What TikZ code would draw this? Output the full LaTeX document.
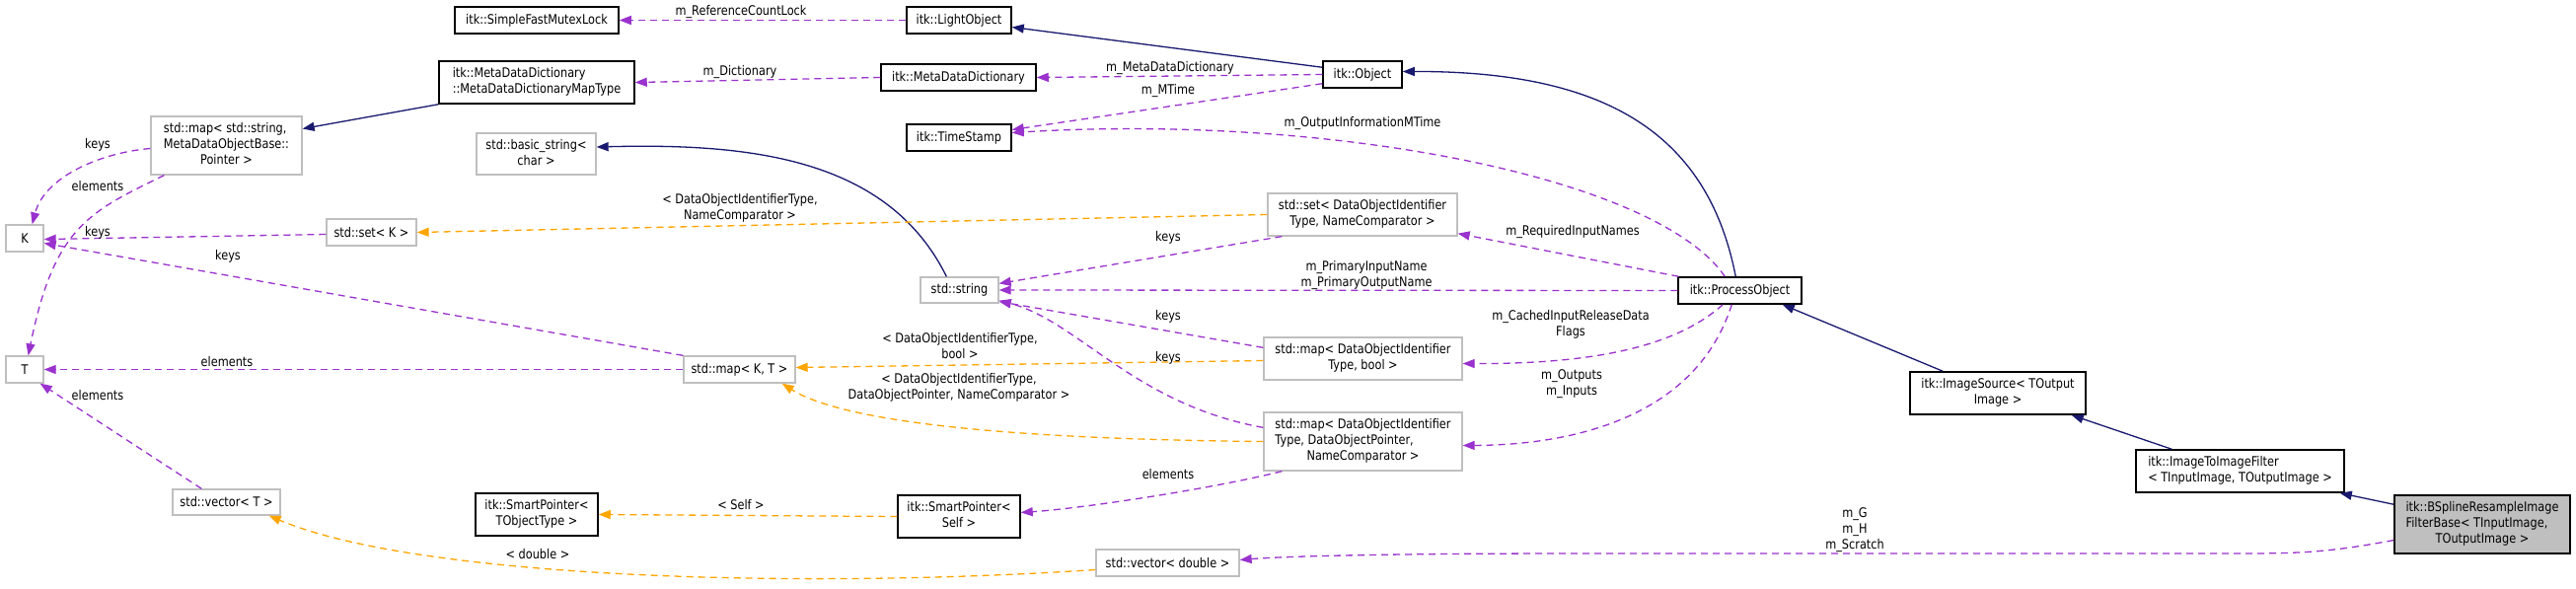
\documentclass[tikz,border=0pt]{standalone}
\usepackage{fontspec}
\setmainfont[FakeStretch=0.85]{DejaVu Sans}
\usetikzlibrary{arrows.meta,calc}
\definecolor{dxnavy}{HTML}{191970}
\definecolor{dxpurple}{HTML}{9A32CD}
\definecolor{dxorange}{HTML}{FFA500}
\definecolor{dxgray}{HTML}{BFBFBF}
\newcommand\dxfont{\fontsize{13.3pt}{16pt}\selectfont}
\newcommand\dxTwo[2]{\begin{tabular}{@{}l@{}}#1\\\multicolumn{1}{@{}c@{}}{#2}\end{tabular}}
\newcommand\dxThree[3]{\begin{tabular}{@{}l@{}}#1\\#2\\\multicolumn{1}{@{}c@{}}{#3}\end{tabular}}
\begin{document}
\begin{tikzpicture}[x=1pt,y=-1pt,
  box/.style={draw, line width=1.5pt, inner sep=0pt, font=\dxfont, fill=white},
  doc/.style={box, draw=black},
  undoc/.style={box, draw=dxgray, line width=1.3pt},
  cur/.style={box, draw=black, fill=dxgray},
  inh/.style={draw=dxnavy, line width=1.3pt, -{Triangle[length=12pt,width=9pt]}},
  use/.style={draw=dxpurple, line width=1.3pt, dash pattern=on 7pt off 5pt, -{Triangle[length=12pt,width=9pt]}},
  tmpl/.style={draw=dxorange, line width=1.3pt, dash pattern=on 7pt off 5pt, -{Triangle[length=12pt,width=9pt]}},
  lbl/.style={font=\dxfont, align=center, inner sep=0pt}]
\fill[white] (0,0) rectangle (2611,597);
\useasboundingbox (0,0) rectangle (2611,597);

% nodes
\node[doc, minimum width=166, minimum height=27] (smfl) at (544,20.5) {itk::SimpleFastMutexLock};
\node[doc, minimum width=198, minimum height=43] (mddmt) at (544,83.5) {\dxTwo{itk::MetaDataDictionary}{::MetaDataDictionaryMapType}};
\node[undoc, minimum width=153, minimum height=59] (mapstr) at (229.5,147.5) {\dxThree{std::map< std::string,}{MetaDataObjectBase::}{Pointer >}};
\node[undoc, minimum width=121, minimum height=42] (basicstr) at (543.5,156) {\dxTwo{std::basic\_string<}{char >}};
\node[undoc, minimum width=38, minimum height=27] (K) at (25,241.5) {K};
\node[undoc, minimum width=91, minimum height=27] (setK) at (376.5,235.5) {std::set< K >};
\node[undoc, minimum width=38, minimum height=27] (T) at (25,374.5) {T};
\node[undoc, minimum width=113, minimum height=27] (mapKT) at (749.5,374.5) {std::map< K, T >};
\node[undoc, minimum width=109, minimum height=26] (vecT) at (229.5,509) {std::vector< T >};
\node[doc, minimum width=124, minimum height=43] (spTO) at (544,521.5) {\dxTwo{itk::SmartPointer<}{TObjectType >}};
\node[doc, minimum width=106, minimum height=27] (light) at (972,20.5) {itk::LightObject};
\node[doc, minimum width=157, minimum height=27] (mdd) at (971.5,78.5) {itk::MetaDataDictionary};
\node[doc, minimum width=80, minimum height=27] (obj) at (1381,75.5) {itk::Object};
\node[doc, minimum width=106, minimum height=27] (ts) at (972,139.5) {itk::TimeStamp};
\node[undoc, minimum width=192, minimum height=43] (setDO) at (1381,217.5) {\dxTwo{std::set< DataObjectIdentifier}{Type, NameComparator >}};
\node[undoc, minimum width=79, minimum height=26] (str) at (972.5,294) {std::string};
\node[doc, minimum width=125, minimum height=27] (po) at (1763.5,294.5) {itk::ProcessObject};
\node[undoc, minimum width=201, minimum height=43] (mapbool) at (1381.5,363.5) {\dxTwo{std::map< DataObjectIdentifier}{Type, bool >}};
\node[undoc, minimum width=201, minimum height=59] (mapdop) at (1381.5,447.5) {\dxThree{std::map< DataObjectIdentifier}{Type, DataObjectPointer,}{NameComparator >}};
\node[doc, minimum width=124, minimum height=43] (spSelf) at (972,523.5) {\dxTwo{itk::SmartPointer<}{Self >}};
\node[undoc, minimum width=145, minimum height=27] (vecd) at (1183.5,570.5) {std::vector< double >};
\node[doc, minimum width=178, minimum height=43] (imgsrc) at (2025,398.5) {\dxTwo{itk::ImageSource< TOutput}{Image >}};
\node[doc, minimum width=211, minimum height=43] (i2i) at (2270.5,477.5) {\dxTwo{itk::ImageToImageFilter}{< TInputImage, TOutputImage >}};
\node[cur, minimum width=178, minimum height=59] (bspline) at (2516,531.5) {\dxThree{itk::BSplineResampleImage}{FilterBase< TInputImage,}{TOutputImage >}};

% edges
\draw[use] (light.west) -- (smfl.east);
\draw[use] (mdd.west) -- (mddmt.east);
\draw[inh] ($(obj.north west)+(0,7)$) -- ($(light.east)+(0,7)$);
\draw[use] (obj.west) -- (mdd.east);
\draw[use] ($(obj.south west)+(0,-5)$) -- ($(ts.east)+(0,-8)$);
\draw[use] ($(po.north west)+(48,0)$) .. controls (1680,180) and (1350,115) .. ($(ts.east)+(0,-5)$);
\draw[inh] ($(po.north west)+(59,0)$) .. controls (1730,130) and (1620,72) .. ($(obj.east)+(0,-3)$);
\draw[use] ($(po.north west)+(1,0)$) -- ($(setDO.south east)+(0,-3)$);
\draw[use] (po.west) -- (str.east);
\draw[use] ($(po.south west)+(46,0)$) .. controls (1700,350) and (1620,369) .. ($(mapbool.east)+(0,5)$);
\draw[use] ($(po.south west)+(55,0)$) .. controls (1720,420) and (1600,451) .. ($(mapdop.east)+(0,4)$);
\draw[inh] ($(imgsrc.north west)+(34,0)$) -- ($(po.south east)+(-20,0)$);
\draw[inh] ($(i2i.north west)+(37,0)$) -- ($(imgsrc.south east)+(-15,0)$);
\draw[inh] ($(bspline.north west)+(0,10)$) -- ($(i2i.south east)+(-5,0)$);
\draw[use] ($(bspline.west)+(0,16)$) .. controls (2360,560) and (2330,561) .. (2270,561) -- (1600,561) .. controls (1400,561) and (1300,564) .. ($(vecd.east)+(0,-3)$);
\draw[tmpl] ($(vecd.west)+(0,7)$) .. controls (800,598) and (420,585) .. ($(vecT.south east)+(-12,0)$);
\draw[tmpl] (spSelf.west) -- (spTO.east);
\draw[use] ($(mapdop.south west)+(19,0)$) .. controls (1230,495) and (1100,515) .. ($(spSelf.east)+(0,-4)$);
\draw[use] ($(mapdop.north west)+(0,16)$) .. controls (1150,410) and (1092,325) .. ($(str.south east)+(0,-3)$);
\draw[use] ($(mapbool.north west)+(0,11)$) -- ($(str.south east)+(0,-2)$);
\draw[use] ($(setDO.south west)+(15,0)$) -- ($(str.north east)+(0,7)$);
\draw[inh] ($(str.north west)+(27,0)$) .. controls (900,160) and (760,145) .. ($(basicstr.east)+(0,-7)$);
\draw[tmpl] (setDO.west) -- (setK.east);
\draw[tmpl] ($(mapbool.west)+(0,2)$) -- ($(mapKT.east)+(0,-2)$);
\draw[tmpl] (mapdop.west) .. controls (1000,445) and (850,425) .. ($(mapKT.south east)+(-14,0)$);
\draw[use] (mapKT.north west) -- ($(K.east)+(0,5)$);
\draw[use] (mapKT.west) -- (T.east);
\draw[use] ($(setK.west)+(0,2)$) -- ($(K.east)+(0,1)$);
\draw[use] ($(mapstr.west)+(0,3)$) .. controls (100,155) and (45,180) .. ($(K.north east)+(-12,0)$);
\draw[use] ($(mapstr.south west)+(14,0)$) .. controls (90,215) and (55,230) .. ($(T.north east)+(-16,0)$);
\draw[use] ($(vecT.north west)+(30,0)$) -- ($(T.south east)+(-4,0)$);
\draw[inh] (mddmt.south west) -- ($(mapstr.east)+(0,-17)$);

% labels
\node[lbl] (l1) at (751,12) {m\_ReferenceCountLock};
\node[lbl] (l2) at (750,73) {m\_Dictionary};
\node[lbl] (l3) at (1186,69) {m\_MetaDataDictionary};
\node[lbl] (l4) at (1184,92) {m\_MTime};
\node[lbl] (l5) at (1381,125) {m\_OutputInformationMTime};
\node[lbl] (l6) at (1594,235) {m\_RequiredInputNames};
\node[lbl] (l7) at (1385,279) {m\_PrimaryInputName\\m\_PrimaryOutputName};
\node[lbl] (l8) at (1592,329) {m\_CachedInputReleaseData\\Flags};
\node[lbl] (l9) at (1593,389) {m\_Outputs\\m\_Inputs};
\node[lbl] (l10) at (1880,537) {m\_G\\m\_H\\m\_Scratch};
\node[lbl] (l11) at (545,562) {< double >};
\node[lbl] (l12) at (751,512) {< Self >};
\node[lbl] (l13) at (1184,481) {elements};
\node[lbl] (l14) at (1184,363) {keys};
\node[lbl] (l15) at (1184,321) {keys};
\node[lbl] (l16) at (1184,241) {keys};
\node[lbl] (l17) at (750,211) {< DataObjectIdentifierType,\\NameComparator >};
\node[lbl] (l18) at (973,351) {< DataObjectIdentifierType,\\bool >};
\node[lbl] (l19) at (972,393) {< DataObjectIdentifierType,\\DataObjectPointer, NameComparator >};
\node[lbl] (l20) at (231,260) {keys};
\node[lbl] (l21) at (230,367) {elements};
\node[lbl] (l22) at (99,236) {keys};
\node[lbl] (l23) at (99,147) {keys};
\node[lbl] (l24) at (99,189) {elements};
\node[lbl] (l25) at (99,401) {elements};
\end{tikzpicture}
\end{document}
